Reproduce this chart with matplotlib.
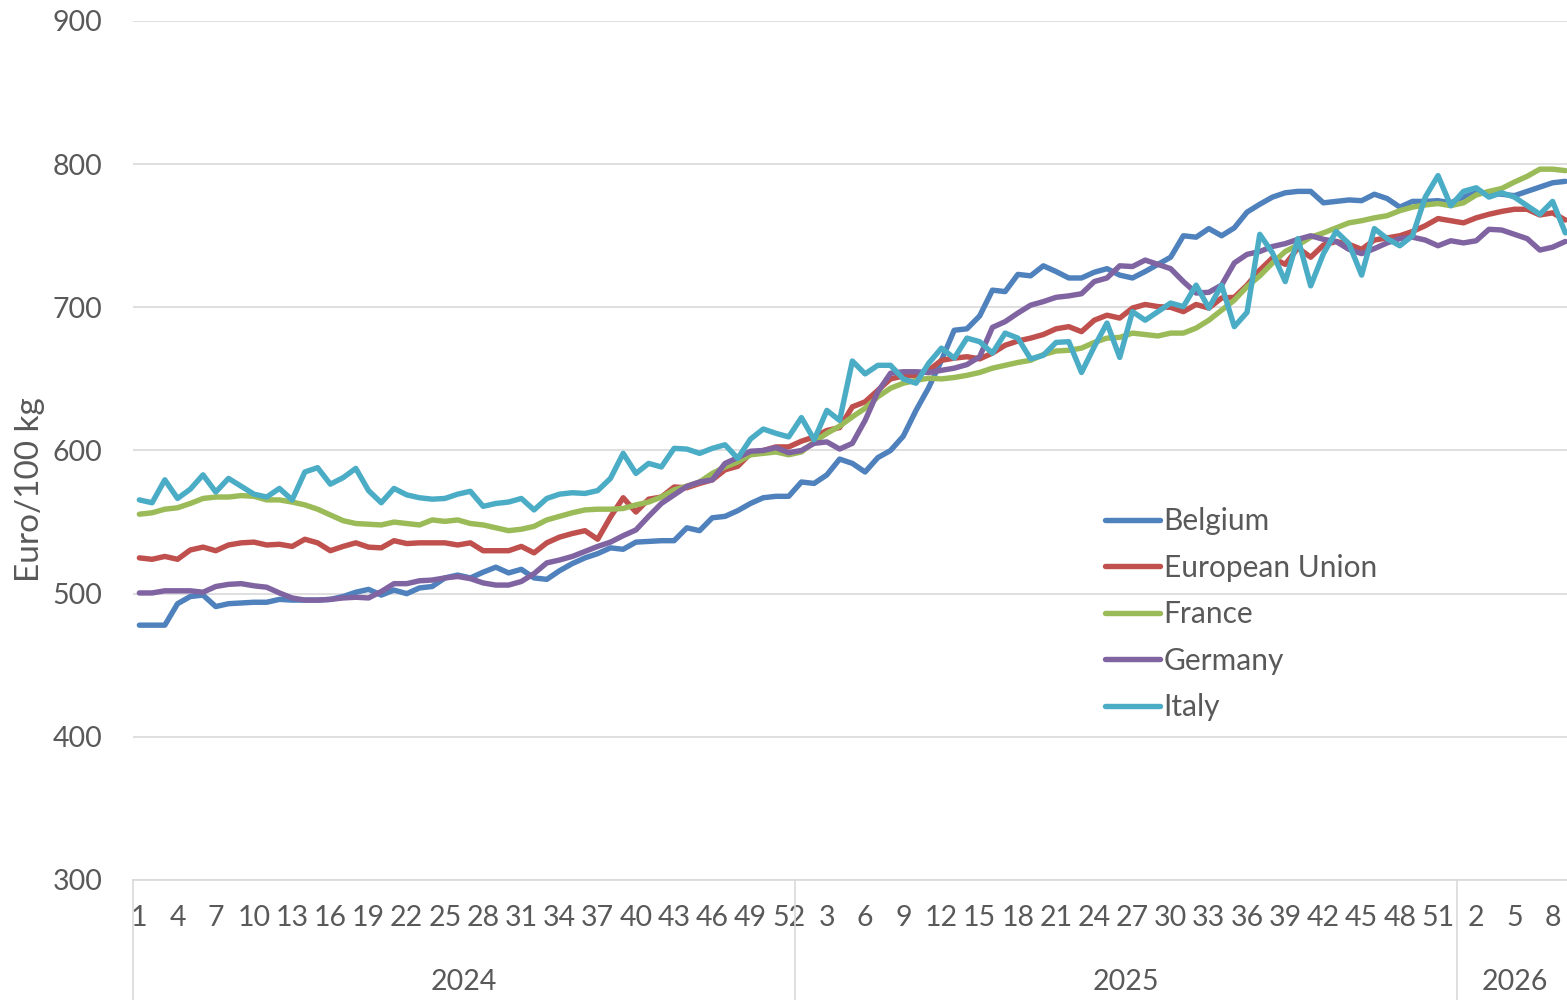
import numpy as np
import matplotlib
matplotlib.use("Agg")
import matplotlib.pyplot as plt
import matplotlib.transforms as mtransforms

plt.rcParams['font.family'] = ['Lato', 'DejaVu Sans']

# weekly prices, 2024 wk1 .. 2026 wk9
weeks = list(range(1, 53)) + list(range(1, 53)) + list(range(1, 10))
years = ["2024", "2025", "2026"]
year_lengths = [52, 52, 9]

belgium = [478, 478, 478, 493, 498, 499, 491, 493, 493.5, 494, 494, 496, 495.5, 495.5, 495.5, 496, 498, 501, 503, 499,
           502.5, 500, 504, 505, 511, 513, 511, 515, 518.5, 514.5, 517, 511, 510, 516, 521, 525, 528, 532, 531, 536,
           536.5, 537, 537, 546, 544, 553, 554, 558, 563, 567, 568, 568,
           578, 577, 583, 594, 591, 585, 595, 600, 610, 628, 644, 663, 684, 685, 694, 712, 711, 723, 722, 729,
           725, 720.5, 720.5, 724.5, 727, 722.5, 720.5, 725, 730, 735, 750, 749, 755, 750, 755.5, 766.5, 772, 777,
           780, 781, 781, 773, 774, 775, 774.5, 779, 776, 770, 774, 774, 774.5, 773,
           777, 780, 780, 779, 778, 781, 784, 787, 788]
eu = [525, 524, 526, 524, 530.5, 532.5, 530, 534, 535.5, 536, 534, 534.5, 533, 538, 535.5, 530, 533, 535.5, 532.5, 532,
      537, 535, 535.5, 535.5, 535.5, 534, 535.5, 530, 530, 530, 533, 528.5, 535.5, 539.5, 542, 544, 538, 553.5, 567, 557,
      566, 567.5, 574.5, 574, 577, 579.5, 586.5, 589, 598, 600, 602.5, 602.5,
      606.5, 609.5, 614, 616, 630.5, 634, 642, 650, 652, 652.5, 656, 663, 664.5, 665.5, 664, 668, 673.5, 676.5, 678.5, 681,
      685, 686.5, 683, 691, 694.5, 692.5, 699.5, 702, 700.5, 700, 697, 702, 699.5, 706.5, 707, 715.5, 726, 734.5,
      730, 741.5, 735, 743.5, 746, 744, 740.5, 747, 748.5, 750, 753, 757, 762, 760.5,
      759, 762.5, 765, 767, 768.5, 768.5, 764.5, 766, 761]
france = [555.5, 556.5, 559, 560, 563, 566.5, 567.5, 567.5, 568.5, 568, 565.5, 565.5, 564, 562, 559, 555, 551, 549, 548.5, 548,
          550, 549, 548, 551.5, 550.5, 551.5, 549, 548, 546, 544, 545, 547, 551.5, 554, 556.5, 558.5, 559, 559, 559.5, 562,
          564, 567.5, 572.5, 575, 578, 584, 588.5, 592, 597, 598, 599, 597,
          599, 606, 612, 617, 623.5, 629.5, 637.5, 643.5, 647, 649, 650.5, 650, 651, 652.5, 654.5, 657.5, 659.5, 661.5, 663, 667,
          669.5, 670, 671.5, 675.5, 678.5, 679, 682, 681, 680, 682, 682, 685.5, 691, 698, 705, 714.5, 722, 731,
          739, 743.5, 749, 752, 755.5, 759, 760.5, 762.5, 764, 767.5, 770, 771.5, 772.5, 771,
          773, 778.5, 781, 783, 787.5, 791.5, 796.5, 796.5, 795.5]
germany = [500.5, 500.5, 502, 502, 502, 501, 505, 506.5, 507, 505.5, 504.5, 500.5, 497, 495.5, 495.5, 496, 497, 497.5, 497, 501.5,
           507, 507, 509, 509.5, 511, 512, 510.5, 507.5, 506, 506, 508.5, 514, 521.5, 523.5, 526, 529.5, 533, 536, 540.5, 544.5,
           554, 563, 569, 575, 578, 579.5, 591, 595, 599.5, 600, 602, 598.5,
           600, 605, 606, 601, 605, 621, 641, 654, 655, 655, 654.5, 656, 657.5, 660, 665.5, 686, 690, 696, 701.5, 704,
           707, 708, 709.5, 718, 720.5, 729, 728.5, 733, 730, 727, 718, 710, 710.5, 715.5, 731, 737, 739, 742.5,
           744.5, 747.5, 750, 747.5, 746, 740.5, 737.5, 741, 745, 748, 749, 747, 743, 746.5,
           745, 746.5, 754.5, 754, 751, 748, 740, 742, 746]
italy = [565.5, 563.5, 579.5, 566.5, 573, 583, 571, 580.5, 575, 569.5, 567.5, 573.5, 565.5, 585, 588, 576.5, 581, 587.5, 572, 563.5,
         573.5, 569, 567, 566, 566.5, 569.5, 571.5, 561, 563, 564, 566.5, 558.5, 566.5, 569.5, 570.5, 570, 572, 580.5, 598, 584,
         591, 588.5, 601.5, 601, 598, 601.5, 604, 594.5, 608, 615, 612, 609.5,
         623, 607.5, 628, 621, 662.5, 653.5, 659.5, 659.5, 650, 647, 661, 671.5, 664.5, 678.5, 676, 668, 682, 678.5, 664, 666.5,
         675.5, 676, 654.5, 672.5, 689, 665, 697, 691, 697, 703, 700.5, 715.5, 699.5, 715.5, 686.5, 696.5, 751, 738,
         718, 748, 715, 737.5, 753, 744.5, 722.5, 755, 748, 743, 750, 777, 792, 771,
         781, 783.5, 777, 780, 777, 771, 765, 774, 752]

series = {
    "Belgium": (belgium, "#4F81BD"),
    "European Union": (eu, "#C0504D"),
    "France": (france, "#9BBB59"),
    "Germany": (germany, "#8064A2"),
    "Italy": (italy, "#4BACC6"),
}

txt = "#595959"
grid = "#D9D9D9"
fs = 20.5

fig = plt.figure(figsize=(15.67, 10), dpi=100)
ax = fig.add_axes([133 / 1567, 0.12, 1.003 - 133 / 1567, 0.979 - 0.12])

x = np.arange(len(weeks))
for name, (vals, col) in series.items():
    ax.plot(x, vals, color=col, lw=3.9, label=name, solid_joinstyle="round", solid_capstyle="round")

ax.set_ylim(300, 900)
ax.set_yticks(range(300, 901, 100))
ax.set_xlim(-0.5, len(weeks) - 0.5)
ax.set_xticks(x[::3])
ax.set_xticklabels([str(weeks[i]) for i in x[::3]])
ax.yaxis.grid(True, color=grid, lw=1.2)
ax.set_axisbelow(True)
for s in ["top", "right", "left"]:
    ax.spines[s].set_visible(False)
ax.spines["bottom"].set_color(grid)
ax.spines["bottom"].set_linewidth(1.2)
ax.tick_params(axis="y", length=0, pad=22, labelsize=fs, labelcolor=txt)
ax.tick_params(axis="x", length=0, pad=18, labelsize=fs, labelcolor=txt)
ax.set_ylabel("Euro/100 kg", fontsize=24, color=txt)
ax.yaxis.set_label_coords(-0.061, 0.454)

# year groups under the week labels
trans = mtransforms.blended_transform_factory(ax.transData, ax.transAxes)
start = 0
bounds = [-0.5]
for yr, n in zip(years, year_lengths):
    ax.text(start + (n - 1) / 2, -0.119, yr, transform=trans, ha="center", va="center",
            fontsize=fs, color=txt)
    start += n
    bounds.append(start - 0.5)
for b in bounds[:-1]:
    ax.plot([b, b], [0, -0.145], transform=trans, color=grid, lw=1.2, clip_on=False)

ax.legend(loc="upper left", bbox_to_anchor=(1105 / 1567, 1 - 507 / 1000), bbox_transform=fig.transFigure,
          frameon=False, fontsize=21.5, labelcolor=txt, handlelength=1.84, handletextpad=0.12,
          borderpad=0, borderaxespad=0, labelspacing=0.62)

fig.savefig("out.png", dpi=100)
